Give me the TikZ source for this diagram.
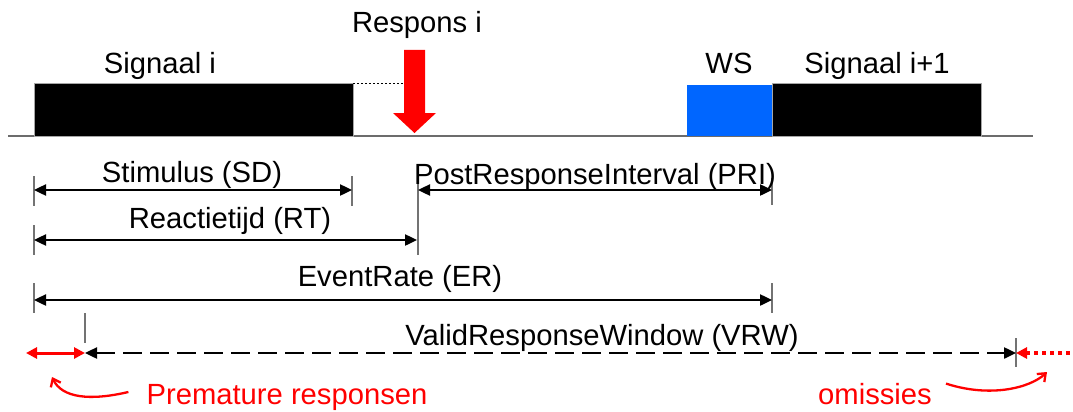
\documentclass[tikz,border=0pt]{standalone}
\usepackage{fontspec}
\setmainfont{Liberation Sans}
\usetikzlibrary{arrows.meta}
\definecolor{wsblue}{RGB}{0,102,255}
\tikzset{
  lbl/.style={anchor=base, inner sep=0pt, font=\fontsize{29.2}{34}\selectfont},
  rlbl/.style={lbl, text=red},
  dim/.style={line width=2.4pt, {Triangle[length=12pt,width=11pt]}-{Triangle[length=12pt,width=11pt]}},
  tick/.style={line width=1.5pt, draw=gray!90!black},
  bar/.style={fill=black, draw=gray!70, line width=1pt},
}
\begin{document}
\begin{tikzpicture}[x=1pt,y=-1pt]
\useasboundingbox (0,0) rectangle (1073,412);

% time axis and stimulus blocks
\draw[line width=1.8pt, gray!85!black] (8,136) -- (1033,136);
\draw[bar] (34,83) rectangle (353,136);
\fill[wsblue] (687,85) rectangle (772,136);
\draw[bar] (772,83) rectangle (981,136);
\draw[line width=0.8pt, dash pattern=on 2pt off 2pt] (353,83) -- (405,83);

% response arrow
\fill[red] (404,50) -- (425,50) -- (425,113) -- (436,113) -- (414.5,133) -- (393,113) -- (404,113) -- cycle;

% labels on top
\node[lbl] (sig) at (160,74) {Signaal i};
\node[lbl] (resp) at (417,33) {Respons i};
\node[lbl] (ws) at (729,74) {WS};
\node[lbl] (sig2) at (877,74) {Signaal i+1};

% dimension end points
\coordinate (sdA) at (34,190);  \coordinate (sdB) at (352,190);
\coordinate (priA) at (418,190); \coordinate (priB) at (772,190);
\coordinate (rtA) at (34,240);  \coordinate (rtB) at (417,240);
\coordinate (erA) at (34,300);  \coordinate (erB) at (772,300);
\coordinate (vA) at (85,353);   \coordinate (vB) at (1016,353);
\coordinate (pA) at (26,353);
\coordinate (oB) at (1073,353);

% extension ticks
\draw[tick] (34,176) -- (34,206);
\draw[tick] (34,225) -- (34,255);
\draw[tick] (34,283) -- (34,313);
\draw[tick] (352,176) -- (352,206);
\draw[tick] (418,178) -- (418,255);
\draw[tick] (772,178) -- (772,205);
\draw[tick] (772,283) -- (772,313);
\draw[tick] (85,313) -- (85,343);
\draw[tick] (1016,338) -- (1016,367);

% dimension arrows
\draw[dim] (sdA) -- (sdB);
\draw[dim] (priA) -- (priB);
\draw[dim] (rtA) -- (rtB);
\draw[dim] (erA) -- (erB);
\draw[dim, dash pattern=on 19pt off 8pt] (vA) -- (vB);
\draw[red, line width=3pt, {Triangle[length=11pt,width=11pt]}-{Triangle[length=11pt,width=11pt]}] (pA) -- (vA);
\draw[red, line width=4pt, dash pattern=on 4pt off 4pt, {Triangle[length=11pt,width=11pt]}-] (vB) -- (oB);

% dimension labels
\node[lbl] (sd) at (192,182) {Stimulus (SD)};
\node[lbl] (pri) at (595,184) {PostResponseInterval (PRI)};
\node[lbl] (rt) at (230,228) {Reactietijd (RT)};
\node[lbl] (er) at (400,286) {EventRate (ER)};
\node[lbl] (vrw) at (602,345) {ValidResponseWindow (VRW)};

% annotations
\node[rlbl] (prem) at (287,404) {Premature responsen};
\node[rlbl] (omi) at (875,404) {omissies};
\coordinate (premEnd) at (52,377);
\coordinate (omiEnd) at (1047,372);
\draw[red, line width=2.3pt, -{Straight Barb[length=7pt,width=11pt]}] (prem.west) ++(-18,-5) coordinate (premStart)
  .. controls (90,401) and (62,398) .. (premEnd);
\draw[red, line width=2.3pt, -{Straight Barb[length=7pt,width=11pt]}] (omi.east) ++(14,-10) coordinate (omiStart)
  .. controls (990,398) and (1030,388) .. (omiEnd);
\end{tikzpicture}
\end{document}
